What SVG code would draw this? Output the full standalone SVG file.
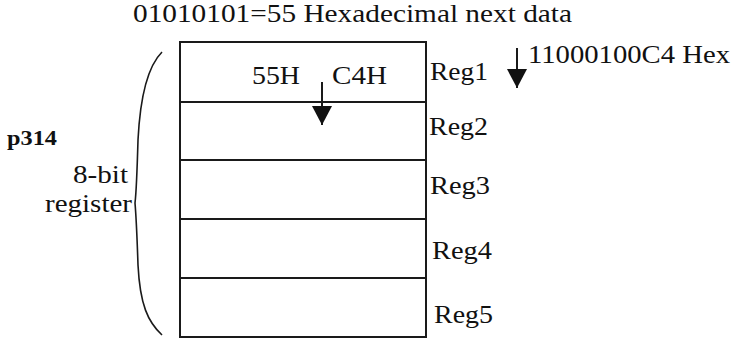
<svg xmlns="http://www.w3.org/2000/svg" width="734" height="340" viewBox="0 0 734 340">
<style>
text{font-family:'Liberation Serif','Times New Roman',Times,serif;fill:#111;font-size:26px}
.box{fill:#fff;stroke:#1a1a1a;stroke-width:2}
.ln{stroke:#1a1a1a;stroke-width:1.6;fill:none}
.b{font-weight:bold;font-size:22px}
</style>
<defs>
<marker id="ah" markerWidth="19" markerHeight="20" refX="19" refY="10" orient="auto" markerUnits="userSpaceOnUse">
<path d="M0,0 L19,10 L0,20 Z" fill="#111"/>
</marker>
</defs>
<rect width="734" height="340" fill="#fff"/>
<text x="133" y="22" textLength="439" lengthAdjust="spacingAndGlyphs">01010101=55 Hexadecimal next data</text>
<g id="reg1"><rect class="box" x="180" y="42" width="246" height="60"/><text x="430" y="80" textLength="58" lengthAdjust="spacingAndGlyphs">Reg1</text>
<text x="252" y="84" textLength="48" lengthAdjust="spacingAndGlyphs">55H</text><text x="332" y="84" textLength="55" lengthAdjust="spacingAndGlyphs">C4H</text></g>
<g id="reg2"><rect class="box" x="180" y="102" width="246" height="58"/><text x="429" y="135" textLength="59" lengthAdjust="spacingAndGlyphs">Reg2</text></g>
<g id="reg3"><rect class="box" x="180" y="160" width="246" height="59"/><text x="430" y="194" textLength="60" lengthAdjust="spacingAndGlyphs">Reg3</text></g>
<g id="reg4"><rect class="box" x="180" y="219" width="246" height="59"/><text x="432" y="259" textLength="60" lengthAdjust="spacingAndGlyphs">Reg4</text></g>
<g id="reg5"><rect class="box" x="180" y="278" width="246" height="59"/><text x="434" y="323" textLength="59" lengthAdjust="spacingAndGlyphs">Reg5</text></g>
<g id="label"><text class="b" x="7" y="145" textLength="50" lengthAdjust="spacingAndGlyphs">p314</text>
<text x="128" y="183" text-anchor="end" textLength="55" lengthAdjust="spacingAndGlyphs">8-bit</text>
<text x="132" y="212" text-anchor="end" textLength="87" lengthAdjust="spacingAndGlyphs">register</text></g>
<text x="528" y="63" textLength="202" lengthAdjust="spacingAndGlyphs">11000100C4 Hex</text>
<g id="connectors">
<path class="ln" d="M162,52 C146,68 140,100 138,140 C137,175 136,195 135,203 C136,215 137,235 138,265 C140,305 148,322 162,335"/>
<line class="ln" x1="517" y1="48" x2="517" y2="88" marker-end="url(#ah)" style="stroke-width:2"/>
<line class="ln" x1="322" y1="82" x2="322" y2="125" marker-end="url(#ah)" style="stroke-width:2"/>
</g>
</svg>
